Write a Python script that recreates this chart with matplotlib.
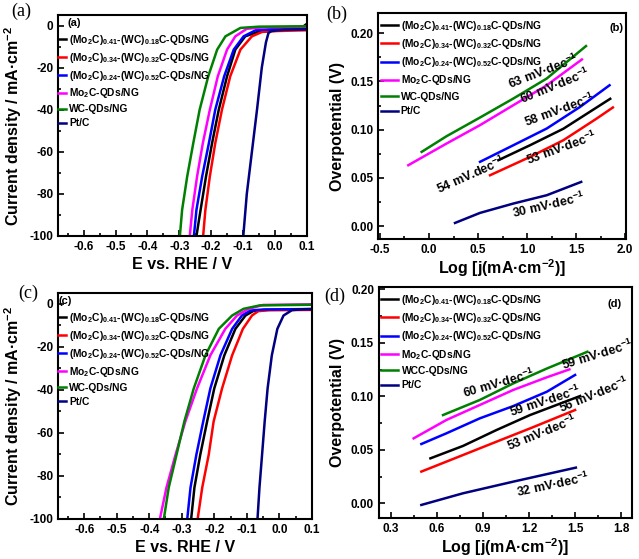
import matplotlib
matplotlib.use("Agg")
import matplotlib.pyplot as plt
from matplotlib.ticker import MultipleLocator, FormatStrFormatter

plt.rcParams['font.family'] = ['Liberation Sans', 'DejaVu Sans']
plt.rcParams['font.weight'] = 'bold'
plt.rcParams['mathtext.default'] = 'regular'
plt.rcParams['axes.unicode_minus'] = False

# etiquetas de las muestras
labels = [r'(Mo$_2$C)$_{0.41}$-(WC)$_{0.18}$C-QDs/NG',
          r'(Mo$_2$C)$_{0.34}$-(WC)$_{0.32}$C-QDs/NG',
          r'(Mo$_2$C)$_{0.24}$-(WC)$_{0.52}$C-QDs/NG',
          r'Mo$_2$C-QDs/NG',
          'WC-QDs/NG',
          'Pt/C']
labels_d = labels[:4] + ['WCC-QDs/NG', 'Pt/C']
colors = ['black', '#ff0000', '#0000ff', '#ff00ff', '#008000', '#000080']

# ---- (a) LSV ----
a_black_E = [-0.246, -0.233, -0.216, -0.197, -0.176, -0.150, -0.124, -0.093, -0.05, 0.0, 0.08, 0.1]
a_black_j = [-100, -87.6, -71.7, -55.9, -40, -24.1, -11.4, -5.1, -2.8, -2.5, -1.5, 0.8]
a_red_E = [-0.225, -0.218, -0.204, -0.187, -0.166, -0.140, -0.108, -0.072, -0.04, 0.0, 0.1]
a_red_j = [-100, -87.6, -71.7, -55.9, -40, -24.1, -11.4, -5.1, -3.0, -2.6, -2.2]
a_blue_E = [-0.254, -0.246, -0.228, -0.207, -0.187, -0.159, -0.129, -0.098, -0.06, 0.0, 0.1]
a_blue_j = [-100, -87.6, -71.7, -55.9, -40, -24.1, -11.4, -5.1, -2.2, -1.6, -1.5]
a_mo_E = [-0.267, -0.259, -0.244, -0.226, -0.204, -0.179, -0.150, -0.124, -0.088, -0.03, 0.1]
a_mo_j = [-100, -87.6, -71.7, -55.9, -40.0, -24.1, -11.4, -5.1, -1.5, -0.8, -0.6]
a_wc_E = [-0.298, -0.291, -0.275, -0.256, -0.236, -0.209, -0.181, -0.155, -0.108, -0.05, 0.1]
a_wc_j = [-100, -87.6, -71.7, -55.9, -40.0, -24.1, -11.4, -5.1, -1.1, -0.5, -0.3]
a_pt_E = [-0.099, -0.088, -0.072, -0.056, -0.041, -0.028, -0.020, -0.01, 0.03, 0.1]
a_pt_j = [-100, -80, -60, -40, -20, -8, -3.5, -2.5, -2.0, -1.8]

# ---- (b) Tafel ----
b_black_x = [0.707, 1.03, 1.37, 1.847]
b_black_y = [0.0684, 0.0839, 0.101, 0.132]
b_red_x = [0.622, 1.03, 1.37, 1.71, 1.874]
b_red_y = [0.0528, 0.0718, 0.0891, 0.1116, 0.123]
b_blue_x = [0.52, 0.86, 1.20, 1.54, 1.84]
b_blue_y = [0.0667, 0.0839, 0.1012, 0.1236, 0.146]
b_mo_x = [-0.211, 0.18, 0.52, 0.86, 1.20, 1.558]
b_mo_y = [0.0632, 0.0857, 0.1047, 0.1254, 0.146, 0.1727]
b_wc_x = [-0.075, 0.18, 0.52, 0.86, 1.20, 1.60]
b_wc_y = [0.077, 0.0933, 0.1126, 0.1323, 0.153, 0.1866]
b_pt_x = [0.265, 0.52, 0.86, 1.20, 1.551]
b_pt_y = [0.0034, 0.0138, 0.0235, 0.0321, 0.0459]
b_notes = ['63', '60', '58', '53', '54', '30']
b_notes_x = [1.167, 1.286, 1.327, 1.354, 0.425, 1.225]
b_notes_y = [0.160, 0.145, 0.120, 0.081, 0.0528, 0.0218]

# ---- (c) LSV ----
c_black_E = [-0.271, -0.261, -0.243, -0.222, -0.200, -0.169, -0.135, -0.104, -0.08, -0.04, 0.1]
c_black_j = [-100, -85.5, -70.2, -54.8, -39.4, -24.0, -11.7, -5.5, -3.4, -2.9, -2.8]
c_red_E = [-0.251, -0.237, -0.217, -0.202, -0.176, -0.145, -0.112, -0.084, -0.065, -0.03, 0.1]
c_red_j = [-100, -85.5, -70.2, -54.8, -39.4, -24.0, -11.7, -5.5, -3.5, -3.0, -2.9]
c_blue_E = [-0.283, -0.273, -0.255, -0.234, -0.212, -0.181, -0.145, -0.115, -0.089, -0.05, 0.1]
c_blue_j = [-100, -85.5, -70.2, -54.8, -39.4, -24.0, -11.7, -5.5, -3.2, -2.7, -2.5]
c_mo_E = [-0.367, -0.347, -0.319, -0.289, -0.253, -0.212, -0.166, -0.130, -0.094, -0.05, 0.1]
c_mo_j = [-100, -85.5, -70.2, -54.8, -39.4, -24.0, -11.7, -5.5, -2.4, -0.6, -0.3]
c_wc_E = [-0.355, -0.340, -0.316, -0.292, -0.263, -0.227, -0.186, -0.145, -0.110, -0.06, 0.1]
c_wc_j = [-100, -85.5, -70.2, -54.8, -39.4, -24.0, -11.7, -5.5, -2.4, -0.8, -0.5]
c_pt_E = [-0.067, -0.061, -0.053, -0.045, -0.036, -0.023, -0.006, 0.013, 0.039, 0.07, 0.1]
c_pt_j = [-100, -85.5, -70.2, -54.8, -39.4, -24.0, -11.7, -5.5, -3.0, -2.6, -2.5]

# ---- (d) Tafel ----
d_black_x = [0.559, 0.771, 0.989, 1.207, 1.533]
d_black_y = [0.042, 0.0536, 0.0685, 0.0825, 0.1003]
d_red_x = [0.50, 0.771, 0.989, 1.207, 1.50]
d_red_y = [0.0296, 0.0451, 0.0576, 0.070, 0.0872]
d_blue_x = [0.50, 0.663, 0.88, 1.098, 1.316, 1.50]
d_blue_y = [0.0554, 0.0654, 0.0794, 0.0909, 0.1043, 0.12]
d_mo_x = [0.45, 0.663, 0.88, 1.098, 1.316, 1.463]
d_mo_y = [0.0607, 0.0779, 0.0919, 0.106, 0.1178, 0.1252]
d_wc_x = [0.641, 0.88, 1.098, 1.316, 1.58]
d_wc_y = [0.0825, 0.0966, 0.1121, 0.126, 0.1417]
d_pt_x = [0.50, 0.771, 1.098, 1.505]
d_pt_y = [-0.0016, 0.0093, 0.0202, 0.0333]
d_notes = ['60', '59', '59', '56', '53', '32']
d_notes_x = [1.004, 1.646, 1.305, 1.62, 1.283, 1.359]
d_notes_y = [0.112, 0.1386, 0.095, 0.1012, 0.0654, 0.0171]


def estilo(ax):
    for s in ax.spines.values():
        s.set_linewidth(1.5)
    ax.tick_params(which='both', direction='in', labelsize=8.5, width=1.2)
    ax.tick_params(which='major', length=4)
    ax.tick_params(which='minor', length=2)
    for t in ax.get_xticklabels() + ax.get_yticklabels():
        t.set_fontweight('bold')


def panel_lsv(ax, series, letra, labs, ly):
    for (E, j), c, l in zip(series, colors, labs):
        ax.plot(E, j, color=c, lw=1.8, label=l)
    ax.set_xlim(-0.68, 0.1)
    ax.set_ylim(-100, 5)
    ax.xaxis.set_minor_locator(MultipleLocator(0.05))
    ax.yaxis.set_major_locator(MultipleLocator(20))
    ax.yaxis.set_minor_locator(MultipleLocator(10))
    ax.xaxis.set_major_formatter(FormatStrFormatter('%.1f'))
    ax.set_xticks([-0.6, -0.5, -0.4, -0.3, -0.2, -0.1, 0.0, 0.1])
    ax.set_xlabel('E vs. RHE / V', fontsize=11.5, fontweight='bold', labelpad=3)
    ax.set_ylabel('Current density / mA\u00b7cm$^{-2}$', fontsize=11.5, fontweight='bold')
    ax.text(ly[0], ly[1], '(' + letra + ')', transform=ax.transAxes, fontsize=8,
            fontweight='bold', va='center', ha='left')
    ax.legend(loc='upper left', bbox_to_anchor=(0.0, 0.92), frameon=False,
              fontsize=7.4, handlelength=0.8, handletextpad=0.25, labelspacing=0.38,
              borderaxespad=0, borderpad=0)
    estilo(ax)


def panel_tafel(ax, series, letra, labs, notas, nx, ny, rots, ly):
    for (x, y), c, l in zip(series, colors, labs):
        ax.plot(x, y, color=c, lw=1.8, label=l)
    for n, xx, yy, r in zip(notas, nx, ny, rots):
        sep = '.' if (letra == 'b' and n == '54') else '\u00b7'
        ax.text(xx, yy, n + ' mV' + sep + 'dec$^{-1}$', fontsize=9, fontweight='bold',
                rotation=r, ha='center', va='center')
    ax.set_ylabel('Overpotential (V)', fontsize=11.5, fontweight='bold')
    ax.set_xlabel('Log [j(mA\u00b7cm$^{-2}$)]', fontsize=11.5, fontweight='bold', labelpad=1)
    ax.yaxis.set_major_locator(MultipleLocator(0.05))
    ax.yaxis.set_minor_locator(MultipleLocator(0.025))
    ax.yaxis.set_major_formatter(FormatStrFormatter('%.2f'))
    ax.xaxis.set_major_formatter(FormatStrFormatter('%.1f'))
    ax.text(ly[0], ly[1], '(' + letra + ')', transform=ax.transAxes, fontsize=8,
            fontweight='bold', va='center', ha='right')
    ax.legend(loc='upper left', bbox_to_anchor=(0.01, 0.975), frameon=False,
              fontsize=7.4, handlelength=1.65, handletextpad=0.3, labelspacing=0.42,
              borderaxespad=0, borderpad=0)
    estilo(ax)


fig = plt.figure(figsize=(6.39, 5.59), dpi=100)
ax_a = fig.add_axes([0.091, 0.578, 0.389, 0.395])
ax_b = fig.add_axes([0.592, 0.572, 0.388, 0.405])
ax_c = fig.add_axes([0.091, 0.072, 0.397, 0.404])
ax_d = fig.add_axes([0.593, 0.073, 0.396, 0.414])

panel_lsv(ax_a, [(a_black_E, a_black_j), (a_red_E, a_red_j), (a_blue_E, a_blue_j),
                 (a_mo_E, a_mo_j), (a_wc_E, a_wc_j), (a_pt_E, a_pt_j)], 'a', labels,
          (0.036, 0.964))
panel_lsv(ax_c, [(c_black_E, c_black_j), (c_red_E, c_red_j), (c_blue_E, c_blue_j),
                 (c_mo_E, c_mo_j), (c_wc_E, c_wc_j), (c_pt_E, c_pt_j)], 'c', labels,
          (0.0, 0.966))

panel_tafel(ax_b, [(b_black_x, b_black_y), (b_red_x, b_red_y), (b_blue_x, b_blue_y),
                   (b_mo_x, b_mo_y), (b_wc_x, b_wc_y), (b_pt_x, b_pt_y)], 'b', labels,
            b_notes, b_notes_x, b_notes_y, [21, 22, 20, 20, 24, 13], (0.988, 0.934))
ax_b.set_xlim(-0.517, 2.01)
ax_b.set_ylim(-0.0135, 0.221)
ax_b.xaxis.set_major_locator(MultipleLocator(0.5))
ax_b.xaxis.set_minor_locator(MultipleLocator(0.25))

panel_tafel(ax_d, [(d_black_x, d_black_y), (d_red_x, d_red_y), (d_blue_x, d_blue_y),
                   (d_mo_x, d_mo_y), (d_wc_x, d_wc_y), (d_pt_x, d_pt_y)], 'd', labels_d,
            d_notes, d_notes_x, d_notes_y, [16, 17, 18, 22, 22, 12], (0.96, 0.926))
ax_d.set_xlim(0.224, 1.87)
ax_d.set_ylim(-0.014, 0.2025)
ax_d.xaxis.set_major_locator(MultipleLocator(0.3))
ax_d.xaxis.set_minor_locator(MultipleLocator(0.15))

# letras de panel (fuera de los ejes)
for txt, x, y in [('(a)', 0.018, 0.995), ('(b)', 0.511, 0.99), ('(c)', 0.028, 0.49), ('(d)', 0.508, 0.485)]:
    fig.text(x, y, txt, fontsize=13, family='Liberation Serif', fontweight='normal', va='top')

fig.savefig('out.png', dpi=100)
